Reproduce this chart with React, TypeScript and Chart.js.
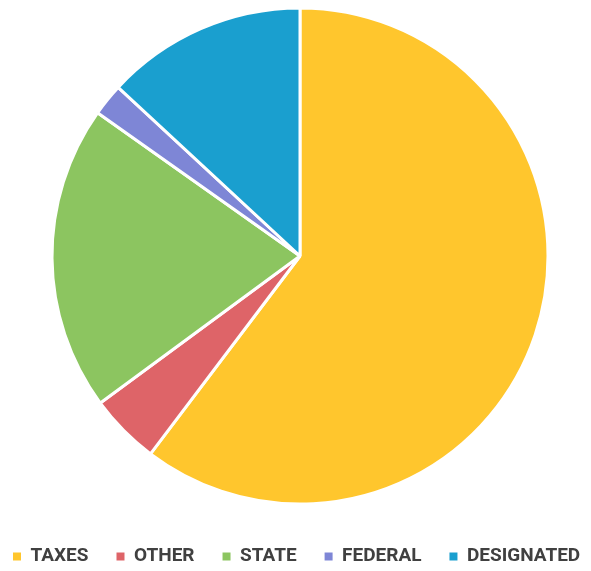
import React, { useEffect, useRef } from "react";
import { Chart, registerables } from "chart.js";

Chart.register(...registerables);

const categories = ["TAXES", "OTHER", "STATE", "FEDERAL", "DESIGNATED"];
const values = [60.3, 4.6, 19.9, 2.1, 13.1];
const colors = ["#FFC62D", "#DE6468", "#8CC560", "#7E86D6", "#1A9FCF"];

export default function App() {
  const ref = useRef<HTMLCanvasElement | null>(null);
  useEffect(() => {
    if (!ref.current) return;
    const baseGen = (Chart as any).overrides.pie.plugins.legend.labels.generateLabels;
    const chart = new Chart(ref.current, {
      type: "pie",
      data: {
        labels: categories,
        datasets: [
          {
            data: values,
            backgroundColor: colors,
            borderColor: "#ffffff",
            borderWidth: 3,
          },
        ],
      },
      options: {
        responsive: false,
        animation: false,
        radius: 248,
        layout: { padding: { top: 0, bottom: 0, left: 0, right: 0 } },
        plugins: {
          tooltip: { enabled: false },
          legend: {
            position: "bottom",
            align: "start",
            labels: {
              boxWidth: 8,
              boxHeight: 8,
              padding: 28,
              color: "#404040",
              font: {
                family: 'Roboto, "Liberation Sans", sans-serif',
                size: 19,
                weight: "bold",
              },
              generateLabels: (c: any) =>
                baseGen(c).map((it: any) => ({ ...it, lineWidth: 0, strokeStyle: "rgba(0,0,0,0)" })),
            },
          },
        },
      },
    });
    return () => chart.destroy();
  }, []);
  return (
    <div
      style={{
        position: "absolute",
        left: 0,
        top: 0,
        width: 591,
        height: 571,
        overflow: "hidden",
        background: "#ffffff",
      }}
    >
      <canvas
        ref={ref}
        width={630}
        height={583}
        style={{ position: "absolute", left: -15, top: -7, width: 630, height: 583 }}
      />
    </div>
  );
}
